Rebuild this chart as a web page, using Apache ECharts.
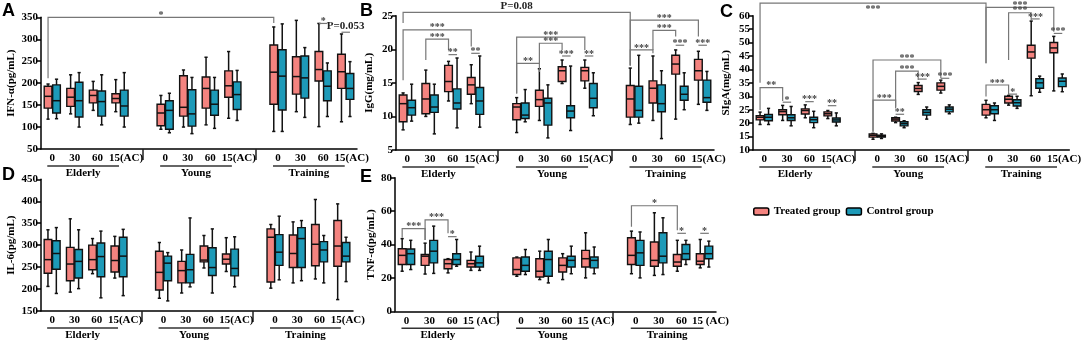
<!DOCTYPE html>
<html>
<head>
<meta charset="utf-8">
<script src="https://cdn.jsdelivr.net/npm/echarts@6/dist/echarts.min.js"></script>
<style>
  html, body { margin: 0; padding: 0; background: #fff; }
  #chart { width: 1084px; height: 343px; }
</style>
</head>
<body>
<div id="chart"></div>
<script>
var ticks = ['0', '30', '60', '15(AC)']
var ticksE = ['0', '30', '60', '15 (AC)']
var groups = ['Elderly', 'Young', 'Training']
var seriesNames = ['Treated group', 'Control group']

// each row: [min, q1, median, q3, max], Elderly 0/30/60/15, Young ..., Training ...
var ifnTreated = [
  [118, 143, 170, 193, 198], [130, 147, 168, 188, 219], [138, 155, 172, 184, 204], [135, 155, 165, 176, 208],
  [95, 103, 132, 152, 172], [100, 125, 145, 217, 230], [105, 143, 188, 214, 259], [120, 168, 194, 228, 272],
  [90, 152, 225, 287, 328], [135, 175, 215, 260, 343], [101, 205, 231, 272, 336], [112, 188, 226, 266, 312]
]
var ifnControl = [
  [119, 132, 160, 196, 209], [100, 123, 160, 202, 224], [105, 125, 158, 182, 219], [100, 125, 148, 184, 224],
  [87, 95, 138, 160, 177], [85, 102, 130, 185, 213], [97, 127, 152, 184, 213], [115, 140, 174, 203, 229],
  [90, 139, 216, 276, 335], [122, 166, 212, 262, 281], [124, 160, 193, 228, 246], [124, 163, 188, 222, 249]
]
var iggTreated = [
  [8.0, 9.2, 11.9, 13.2, 13.5], [10.0, 10.4, 12.6, 14.9, 16.9], [12.3, 13.7, 15.2, 17.6, 18.2], [11.9, 13.3, 14.7, 15.8, 17.7],
  [7.6, 9.5, 11.4, 11.9, 12.8], [9.4, 11.5, 12.5, 13.9, 17.1], [14.9, 15.2, 16.8, 17.4, 18.4], [14.2, 15.3, 16.8, 17.3, 18.4],
  [8.8, 9.9, 12.6, 14.6, 17.2], [9.4, 12.0, 14.2, 15.3, 19.0], [9.6, 16.3, 17.8, 19.1, 19.9], [11.8, 15.4, 16.8, 18.5, 19.7]
]
var iggControl = [
  [9.3, 10.2, 11.3, 12.4, 14.8], [7.4, 10.6, 11.4, 13.2, 14.8], [8.3, 11.1, 12.0, 14.1, 18.7], [8.4, 10.3, 12.3, 14.3, 19.0],
  [9.2, 9.7, 10.2, 12.0, 14.0], [6.8, 8.7, 12.0, 12.7, 14.7], [7.9, 9.8, 10.8, 11.6, 17.5], [10.1, 11.3, 12.7, 14.9, 16.5],
  [9.0, 9.9, 10.9, 14.5, 19.1], [6.7, 10.7, 11.9, 14.7, 16.8], [11.0, 12.4, 13.3, 14.5, 16.5], [10.9, 12.1, 12.8, 15.4, 16.7]
]
var sigaTreated = [
  [19.5, 21.2, 22.2, 22.8, 24.1], [21.0, 23.1, 24.3, 25.0, 26.6], [22.0, 23.4, 24.7, 25.3, 26.8], [21.7, 22.7, 23.5, 24.2, 24.7],
  [14.0, 14.8, 15.5, 16.0, 16.2], [20.2, 20.8, 21.5, 22.0, 22.2], [30.7, 31.8, 32.9, 34.0, 35.1], [31.2, 32.3, 33.7, 35.0, 36.0],
  [22.0, 23.0, 25.0, 27.0, 28.5], [26.7, 27.5, 28.9, 30.0, 30.3], [30.2, 44.2, 46.5, 49.0, 58.0], [32.0, 46.2, 48.0, 50.0, 52.3]
]
var sigaControl = [
  [19.5, 20.9, 22.2, 23.2, 25.5], [19.0, 21.0, 22.0, 23.1, 26.2], [18.3, 20.2, 21.3, 22.2, 24.4], [19.0, 20.4, 21.2, 21.9, 23.8],
  [14.3, 14.8, 15.1, 15.5, 16.0], [18.3, 19.0, 19.8, 20.5, 20.9], [21.5, 23.0, 24.0, 25.0, 26.0], [23.5, 24.2, 25.2, 26.0, 26.8],
  [21.0, 23.5, 25.0, 26.5, 27.5], [25.5, 26.4, 27.6, 28.7, 30.0], [31.5, 33.0, 35.0, 36.5, 37.5], [31.7, 33.6, 35.6, 36.8, 38.3]
]
var il6Treated = [
  [206, 236, 267, 313, 335], [193, 219, 257, 295, 360], [235, 244, 267, 300, 315], [225, 239, 265, 298, 320],
  [179, 198, 238, 286, 306], [191, 214, 242, 263, 289], [248, 262, 266, 298, 322], [240, 257, 268, 280, 317],
  [202, 216, 318, 337, 347], [214, 249, 281, 323, 353], [223, 253, 302, 347, 404], [176, 252, 298, 356, 394]
]
var il6Control = [
  [190, 245, 281, 310, 340], [201, 225, 263, 290, 335], [180, 228, 274, 305, 332], [185, 228, 275, 318, 336],
  [173, 219, 259, 275, 283], [205, 214, 244, 279, 362], [191, 231, 249, 294, 337], [205, 230, 247, 291, 319],
  [221, 254, 284, 324, 366], [219, 249, 315, 340, 356], [214, 262, 289, 308, 322], [217, 262, 275, 306, 318]
]
var tnfTreated = [
  [24.0, 28.0, 33.5, 37.5, 43.5], [22.3, 27.5, 33.0, 34.0, 40.8], [23.0, 25.5, 28.5, 31.0, 31.5], [24.5, 26.5, 28.5, 30.5, 35.5],
  [21.0, 22.0, 25.0, 32.0, 32.5], [19.0, 20.5, 24.0, 31.5, 36.0], [19.0, 23.5, 27.5, 32.0, 34.5], [20.0, 26.5, 31.5, 36.5, 47.0],
  [22.5, 28.0, 33.5, 44.0, 48.0], [21.5, 27.0, 30.5, 41.5, 59.0], [24.0, 27.0, 29.5, 34.0, 42.5], [26.0, 28.0, 30.0, 34.5, 43.0]
]
var tnfControl = [
  [25.0, 28.0, 34.5, 37.3, 42.5], [22.7, 29.0, 36.0, 42.5, 51.0], [27.0, 28.0, 31.0, 34.5, 43.0], [24.5, 26.5, 29.0, 33.0, 39.0],
  [22.0, 24.0, 27.5, 32.5, 37.0], [17.0, 21.0, 31.0, 36.0, 43.0], [22.5, 26.5, 30.5, 33.0, 39.0], [22.5, 26.0, 30.5, 32.5, 38.5],
  [20.0, 27.5, 35.0, 42.5, 47.5], [22.0, 29.0, 33.0, 47.0, 56.0], [28.0, 31.0, 34.5, 40.0, 42.5], [26.5, 31.5, 34.5, 39.0, 42.0]
]

// significance marks: [fromBox, fromSeries, toBox, toSeries, lineValue, fromEnd, toEnd, label]
var ifnMarks = [
  [0, 0, 8, 0, 350, 211, 337, '*'],
  [10, 0, 10, 1, 336, 336, 336, '*'],
  [11, 0, 11, 1, 316, 316, 316, 'P=0.053']
]
var iggMarks = [
  [0, 0, 8, 0, 25.5, 23.9, 17.6, 'P=0.08'],
  [0, 0, 3, 0, 22.9, 15.4, 20.4, '***'],
  [1, 0, 2, 0, 21.5, 18.4, 19.9, '***'],
  [2, 0, 2, 1, 19.2, 19.2, 19.2, '**'],
  [3, 0, 3, 1, 19.4, 19.4, 19.4, '**'],
  [4, 0, 7, 0, 21.8, 13.4, 19.9, '***'],
  [5, 0, 6, 0, 20.9, 17.9, 19.9, '***'],
  [4, 0, 5, 0, 17.9, 13.4, 16.6, '**'],
  [6, 0, 6, 1, 19.0, 19.0, 19.0, '***'],
  [7, 0, 7, 1, 19.0, 19.0, 19.0, '**'],
  [8, 0, 11, 0, 24.35, 17.6, 21.9, '***'],
  [9, 0, 10, 0, 22.8, 19.9, 21.9, '***'],
  [8, 0, 9, 0, 19.9, 17.6, 19.4, '***'],
  [10, 0, 10, 1, 20.6, 20.6, 20.6, '***'],
  [11, 0, 11, 1, 20.6, 20.6, 20.6, '***']
]
var sigaMarks = [
  [0, 0, 8, 0, 64.7, 35.0, 42.3, '***'],
  [0, 0, 1, 0, 33.2, 24.9, 28.2, '**'],
  [1, 0, 1, 1, 27.8, 27.8, 27.8, '*'],
  [2, 0, 2, 1, 28.0, 28.0, 28.0, '***'],
  [3, 0, 3, 1, 26.5, 26.5, 26.5, '**'],
  [4, 0, 7, 0, 43.5, 16.8, 36.7, '***'],
  [5, 0, 6, 0, 39.4, 25.5, 36.1, '***'],
  [6, 0, 6, 1, 36.4, 36.4, 36.4, '***'],
  [7, 0, 7, 1, 36.7, 36.7, 36.7, '***'],
  [4, 0, 5, 0, 28.6, 16.8, 26.1, '***'],
  [5, 0, 5, 1, 23.3, 23.3, 23.3, '**'],
  [8, 0, 11, 0, 63.1, 42.3, 54.0, '***'],
  [9, 0, 10, 0, 61.1, 43.5, 58.4, '***'],
  [10, 0, 10, 1, 58.8, 58.8, 58.8, '***'],
  [11, 0, 11, 1, 53.4, 53.4, 53.4, '***'],
  [8, 0, 9, 0, 34.2, 29.9, 30.5, '***'],
  [9, 0, 9, 1, 30.8, 30.8, 30.8, '*']
]
var tnfMarks = [
  [0, 0, 1, 0, 49.5, 44.0, 42.7, '***'],
  [1, 0, 2, 0, 54.8, 42.7, 46.7, '***'],
  [2, 0, 2, 1, 44.7, 44.7, 44.7, '*'],
  [8, 0, 10, 0, 63.2, 50.7, 48.5, '*'],
  [10, 0, 10, 1, 46.7, 46.7, 46.7, '*'],
  [11, 0, 11, 1, 46.7, 46.7, 46.7, '*']
]

var RED = '#f4837f'
var BLUE = '#1d9ab8'
var SERIF = '"Liberation Serif", "Times New Roman", serif'

var panels = [
  { letter: 'A', name: 'IFN-α(pg/mL)', min: 50, max: 350, step: 50, ticks: ticks, treated: ifnTreated, control: ifnControl, marks: ifnMarks,
    grid: { left: 41, top: 17.3, width: 316, height: 131.7 }, nameGap: 24, title: { left: 2, top: 2 } },
  { letter: 'B', name: 'IgG(mg/mL)', min: 5, max: 25, step: 5, ticks: ticks, treated: iggTreated, control: iggControl, marks: iggMarks,
    grid: { left: 396, top: 15.7, width: 318, height: 134.3 }, nameGap: 21, title: { left: 360, top: 2 } },
  { letter: 'C', name: 'SIgA(mg/mL)', min: 10, max: 60, step: 5, ticks: ticks, treated: sigaTreated, control: sigaControl, marks: sigaMarks,
    grid: { left: 753, top: 15.7, width: 320, height: 134.3 }, nameGap: 21, title: { left: 720, top: 3 } },
  { letter: 'D', name: 'IL-6(pg/mL)', min: 150, max: 450, step: 50, ticks: ticks, treated: il6Treated, control: il6Control, marks: [],
    grid: { left: 41, top: 179.3, width: 312, height: 131.7 }, nameGap: 24, title: { left: 2, top: 166 } },
  { letter: 'E', name: 'TNF-α(pg/mL)', min: 0, max: 80, step: 20, ticks: ticksE, treated: tnfTreated, control: tnfControl, marks: tnfMarks,
    grid: { left: 395, top: 177.7, width: 321, height: 133.6 }, nameGap: 18, title: { left: 360, top: 168 } }
]

// box i sits in slot i + gap slots before it
function slotOf(i) {
  return i + Math.floor(i / 4)
}

function categoriesFor(labels) {
  var cats = []
  for (var g = 0; g < groups.length; g++) {
    labels.forEach(function (t, k) {
      cats.push(k === 3 ? { value: t, textStyle: { padding: [0, 0, 0, 12] } } : t)
    })
    if (g < groups.length - 1) cats.push('')
  }
  return cats
}

function boxShape(side, fill) {
  return function (params, api) {
    var bw = api.size([1, 0])[0]
    var w = bw * 0.34
    var cx = api.coord([api.value(0), 0])[0] + side * (w / 2 + 0.4)
    var y0 = api.coord([0, api.value(1)])[1]
    var y1 = api.coord([0, api.value(2)])[1]
    var y2 = api.coord([0, api.value(3)])[1]
    var y3 = api.coord([0, api.value(4)])[1]
    var y4 = api.coord([0, api.value(5)])[1]
    var ln = { stroke: '#111', lineWidth: 1.5 }
    return {
      type: 'group',
      children: [
        { type: 'line', shape: { x1: cx, y1: y0, x2: cx, y2: y4 }, style: ln },
        { type: 'line', shape: { x1: cx - 1.6, y1: y0, x2: cx + 1.6, y2: y0 }, style: ln },
        { type: 'line', shape: { x1: cx - 1.6, y1: y4, x2: cx + 1.6, y2: y4 }, style: ln },
        { type: 'rect', shape: { x: cx - w / 2, y: y3, width: w, height: y1 - y3 }, style: { fill: fill, stroke: '#111', lineWidth: 1.4 } },
        { type: 'line', shape: { x1: cx - w / 2, y1: y2, x2: cx + w / 2, y2: y2 }, style: ln }
      ]
    }
  }
}

function markShape(rows) {
  return function (params, api) {
    var r = rows[params.dataIndex]
    var off = api.size([1, 0])[0] * 0.17 + 0.4
    var xa = api.coord([slotOf(r[0]), 0])[0] + (r[1] ? off : -off)
    var xb = api.coord([slotOf(r[2]), 0])[0] + (r[3] ? off : -off)
    var yl = api.coord([0, r[4]])[1]
    var ya = api.coord([0, r[5]])[1]
    var yb = api.coord([0, r[6]])[1]
    var star = /^\*+$/.test(r[7])
    var ty = yl < 5 ? yl + 6 : yl - (star ? 2 : 6)
    return {
      type: 'group',
      children: [
        { type: 'polyline', shape: { points: [[xa, ya], [xa, yl], [xb, yl], [xb, yb]] }, style: { stroke: '#777', lineWidth: 1.2, fill: null } },
        { type: 'text', x: (xa + xb) / 2, y: ty,
          style: { text: r[7], align: 'center', verticalAlign: 'middle', fill: star ? '#444' : '#222',
            font: 'bold ' + (star ? 10 : 11) + 'px ' + SERIF } }
      ]
    }
  }
}

function groupShape(params, api) {
  var cs = params.coordSys
  var base = cs.y + cs.height
  var xa = api.coord([api.value(0), 0])[0] - 5
  var xb = api.coord([api.value(1), 0])[0] - 1
  return {
    type: 'group',
    children: [
      { type: 'line', shape: { x1: xa, y1: base + 17, x2: xb, y2: base + 17 }, style: { stroke: '#333', lineWidth: 1.5 } },
      { type: 'text', x: (xa + xb) / 2, y: base + 24,
        style: { text: groups[params.dataIndex], align: 'center', verticalAlign: 'middle', fill: '#000', font: 'bold 11px ' + SERIF } }
    ]
  }
}

var chart = echarts.init(document.getElementById('chart'), null, { renderer: 'canvas' })

var option = {
  animation: false,
  backgroundColor: '#fff',
  title: panels.map(function (p) {
    return { text: p.letter, left: p.title.left, top: p.title.top, padding: 0,
      textStyle: { fontFamily: '"Liberation Sans", Arial, sans-serif', fontWeight: 'bold', fontSize: 18, color: '#000' } }
  }),
  legend: {
    left: 753, top: 206, padding: 0, itemWidth: 15, itemHeight: 7, itemGap: 5, icon: 'roundRect',
    textStyle: { fontFamily: SERIF, fontWeight: 'bold', fontSize: 11, color: '#000' },
    data: [
      { name: seriesNames[0], itemStyle: { color: RED, borderColor: '#000', borderWidth: 1.5 } },
      { name: seriesNames[1], itemStyle: { color: BLUE, borderColor: '#000', borderWidth: 1.5 } }
    ]
  },
  grid: panels.map(function (p) {
    return { left: p.grid.left, top: p.grid.top, width: p.grid.width, height: p.grid.height, containLabel: false }
  }),
  xAxis: panels.map(function (p, i) {
    return {
      type: 'category', gridIndex: i, data: categoriesFor(p.ticks),
      axisLine: { lineStyle: { color: '#000', width: 1.5 } },
      axisTick: { show: true, alignWithLabel: true, length: 11, lineStyle: { color: '#222', width: 1.5 },
        interval: function (idx) { return idx === 4 || idx === 9 } },
      axisLabel: { interval: 0, margin: 4, fontFamily: SERIF, fontWeight: 'bold', fontSize: 11, color: '#000' },
      splitLine: { show: false }
    }
  }),
  yAxis: panels.map(function (p, i) {
    return {
      type: 'value', gridIndex: i, min: p.min, max: p.max, interval: p.step,
      name: p.name, nameLocation: 'middle', nameGap: p.nameGap,
      nameTextStyle: { fontFamily: SERIF, fontWeight: 'bold', fontSize: 11, color: '#000' },
      axisLine: { show: true, lineStyle: { color: '#000', width: 1.5 } },
      axisTick: { show: true, length: 4, lineStyle: { color: '#000', width: 1.5 } },
      axisLabel: { margin: 3, fontFamily: SERIF, fontWeight: 'bold', fontSize: 11, color: '#000' },
      splitLine: { show: false }
    }
  }),
  series: []
}

panels.forEach(function (p, i) {
  [p.treated, p.control].forEach(function (rows, s) {
    option.series.push({
      type: 'custom', name: seriesNames[s], xAxisIndex: i, yAxisIndex: i,
      itemStyle: { color: s ? BLUE : RED },
      renderItem: boxShape(s ? 1 : -1, s ? BLUE : RED),
      encode: { x: 0, y: [1, 2, 3, 4, 5] },
      data: rows.map(function (r, k) { return [slotOf(k)].concat(r) })
    })
  })
  if (p.marks.length) {
    option.series.push({
      type: 'custom', xAxisIndex: i, yAxisIndex: i, clip: false, silent: true,
      renderItem: markShape(p.marks),
      encode: { x: 0, y: 4 },
      data: p.marks.map(function (r) { return r.slice(0, 7) })
    })
  }
  option.series.push({
    type: 'custom', xAxisIndex: i, yAxisIndex: i, clip: false, silent: true,
    renderItem: groupShape,
    encode: { x: [0, 1] },
    data: groups.map(function (g, k) { return [k * 5, k * 5 + 3] })
  })
})

chart.setOption(option)
</script>
</body>
</html>
